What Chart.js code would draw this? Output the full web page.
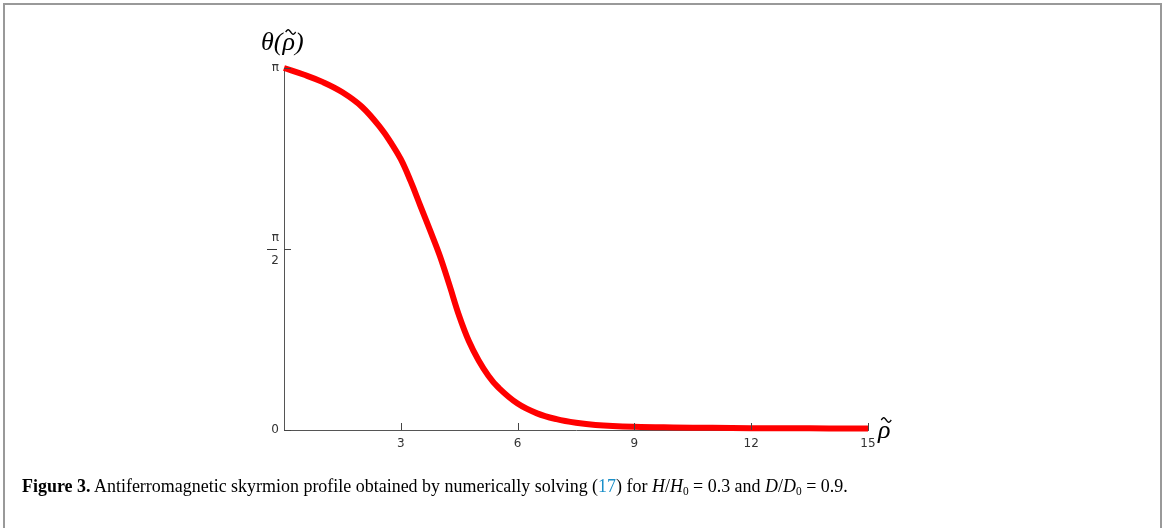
<!DOCTYPE html>
<html>
<head>
<meta charset="utf-8">
<script src="https://cdn.jsdelivr.net/npm/chart.js@4.4.1/dist/chart.umd.min.js"></script>
<style>
  html, body { margin:0; padding:0; background:#fff; width:1166px; height:528px; overflow:hidden; }
  #frame { position:absolute; left:3px; top:3px; width:1155px; height:540px; border:2px solid #999; border-bottom:none; }
  #c { position:absolute; left:0; top:0; }
  #cap { position:absolute; left:22px; top:476px; font-family:"Liberation Serif", serif; font-size:19px; line-height:19px; color:#000; white-space:nowrap; transform:scaleX(0.945); transform-origin:0 0; }
  #cap b { font-weight:bold; }
  #cap .ref { color:#1a8fc8; }
  #cap i { font-style:italic; }
  #cap sub { font-size:12px; vertical-align:-3px; line-height:0; }
</style>
</head>
<body>
<div id="frame"></div>
<canvas id="c" width="1166" height="528"></canvas>
<div id="cap"><b>Figure 3.</b> Antiferromagnetic skyrmion profile obtained by numerically solving (<span class="ref">17</span>) for <i>H</i>/<i>H</i><sub>0</sub> = 0.3 and <i>D</i>/<i>D</i><sub>0</sub> = 0.9.</div>
<script>
// data: rho (x) and theta as fraction of pi
const rho = [0, 0.5, 1, 1.5, 2, 2.5, 2.75, 3, 3.25, 3.5, 3.75, 4, 4.25, 4.5, 4.75, 5, 5.25, 5.5, 6, 6.5, 7, 7.5, 8, 9, 10, 11, 12, 13, 14, 15];
const thetaOverPi = [1.0, 0.982, 0.961, 0.933, 0.893, 0.832, 0.793, 0.748, 0.688, 0.620, 0.552, 0.482, 0.400, 0.315, 0.245, 0.192, 0.150, 0.118, 0.073, 0.046, 0.030, 0.020, 0.014, 0.009, 0.007, 0.006, 0.005, 0.005, 0.004, 0.004];
const xTicks = [3, 6, 9, 12, 15];
const xTickLabels = ['3', '6', '9', '12', '15'];
const yTicks = [0, Math.PI / 2, Math.PI];
const yTickLabels = ['0', ['π', '2'], 'π'];

const points = rho.map((x, i) => ({ x: x, y: thetaOverPi[i] * Math.PI }));

function tilde(ctx, cx, cy) {
  // small wave mark centred at (cx, cy)
  ctx.save();
  ctx.strokeStyle = '#000';
  ctx.lineWidth = 1.4;
  ctx.beginPath();
  const w = 10, h = 2.2;
  for (let i = 0; i <= 20; i++) {
    const t = i / 20;
    const x = cx - w / 2 + t * w;
    const y = cy - Math.sin(t * 2 * Math.PI) * h;
    if (i === 0) ctx.moveTo(x, y); else ctx.lineTo(x, y);
  }
  ctx.stroke();
  ctx.restore();
}

const tickPlugin = {
  id: 'inwardTicks',
  afterDraw(chart) {
    const ctx = chart.ctx;
    const xs = chart.scales.x, ys = chart.scales.y;
    const a = chart.chartArea;
    ctx.save();
    ctx.strokeStyle = '#444';
    ctx.lineWidth = 1;
    xTicks.forEach(v => {
      const px = Math.round(xs.getPixelForValue(v)) + 0.5;
      ctx.beginPath(); ctx.moveTo(px, a.bottom); ctx.lineTo(px, a.bottom - 7); ctx.stroke();
    });
    yTicks.forEach(v => {
      const py = Math.round(ys.getPixelForValue(v)) + 0.5;
      ctx.beginPath(); ctx.moveTo(a.left, py); ctx.lineTo(a.left + 7, py); ctx.stroke();
    });
    // fraction bar for pi/2 label
    const pyh = Math.round(ys.getPixelForValue(Math.PI / 2)) + 0.5;
    ctx.strokeStyle = '#333';
    ctx.beginPath(); ctx.moveTo(a.left - 17, pyh); ctx.lineTo(a.left - 7, pyh); ctx.stroke();

    // axis titles
    ctx.fillStyle = '#000';
    ctx.textBaseline = 'alphabetic';
    ctx.font = 'italic 26px "Liberation Serif", serif';
    ctx.textAlign = 'left';
    // y title: θ(ρ̃)
    const tx = a.left - 23, ty = a.top - 18;
    const w1 = ctx.measureText('θ(').width;
    const wr = ctx.measureText('ρ').width;
    ctx.fillText('θ(ρ)', tx, ty);
    tilde(ctx, tx + w1 + wr / 2 + 2, ty - 18);
    // x title: ρ̃
    const xx = a.right + 10, xy = a.bottom + 8;
    ctx.fillText('ρ', xx, xy);
    tilde(ctx, xx + wr / 2 + 2, xy - 18);
    ctx.restore();
  }
};

new Chart(document.getElementById('c'), {
  type: 'line',
  data: {
    datasets: [{
      data: points,
      borderColor: '#ff0000',
      borderWidth: 6,
      pointRadius: 0,
      fill: false,
      tension: 0.4,
      clip: false
    }]
  },
  options: {
    responsive: false,
    animation: false,
    events: [],
    layout: { padding: { left: 244, top: 68, right: 298, bottom: 73 } },
    plugins: { legend: { display: false }, tooltip: { enabled: false } },
    scales: {
      x: {
        type: 'linear', min: 0, max: 15,
        afterBuildTicks: s => { s.ticks = xTicks.map(v => ({ value: v })); },
        afterFit: s => { s.height = 25; },
        grid: { display: false, drawTicks: false, tickLength: 0 },
        border: { display: true, color: '#555', width: 1 },
        ticks: {
          color: '#333', padding: 7, maxRotation: 0, autoSkip: false,
          font: { family: 'DejaVu Sans', size: 12 },
          callback: (v) => { const i = xTicks.indexOf(v); return i >= 0 ? xTickLabels[i] : ''; }
        }
      },
      y: {
        type: 'linear', min: 0, max: Math.PI,
        afterBuildTicks: s => { s.ticks = yTicks.map(v => ({ value: v })); },
        afterFit: s => { s.width = 40; },
        grid: { display: false, drawTicks: false, tickLength: 0 },
        border: { display: true, color: '#555', width: 1 },
        ticks: {
          color: '#333', padding: 5, autoSkip: false,
          font: { family: 'DejaVu Sans', size: 12, lineHeight: 1.9 },
          callback: (v) => { const i = yTicks.findIndex(t => Math.abs(t - v) < 1e-9); return i >= 0 ? yTickLabels[i] : ''; }
        }
      }
    }
  },
  plugins: [tickPlugin]
});
</script>
</body>
</html>
